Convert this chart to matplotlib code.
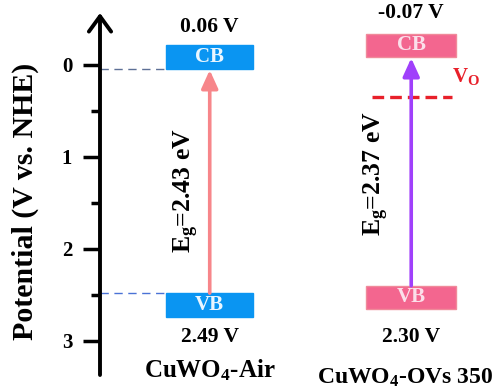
import matplotlib
matplotlib.use('Agg')
import matplotlib.pyplot as plt
from matplotlib.patches import Rectangle

plt.rcParams['font.family'] = ['Liberation Serif', 'DejaVu Serif']
plt.rcParams['font.weight'] = 'bold'
plt.rcParams['mathtext.fontset'] = 'custom'
plt.rcParams['mathtext.rm'] = 'Liberation Serif:bold'
plt.rcParams['mathtext.it'] = 'Liberation Serif:bold'
plt.rcParams['mathtext.bf'] = 'Liberation Serif:bold'

# data
samples = ['CuWO$_4$-Air', 'CuWO$_4$-OVs 350']
cb_text = ['0.06 V', '-0.07 V']
vb_text = ['2.49 V', '2.30 V']
eg_text = ['2.43', '2.37']
cb_level = [0.04, -0.09]   # bottom edge of CB box as drawn
vb_level = [2.48, 2.40]    # top edge of VB box as drawn
vo_level = 0.35

# styling per sample
xpos = [1.10, 3.12]
box_w = [0.87, 0.90]
box_h = [0.26, 0.25]
box_face = ['#0a95f2', '#f3668f']
box_edge = ['#0a95f2', '#f08a9a']
box_txt = ['#eaf6ff', '#fbe0ea']
arrow_col = ['#f7868a', '#a040fb']
eg_xy = [(0.87, 1.37), (2.77, 1.185)]
top_gap = [0.19, 0.22]
bot_gap = [0.22, 0.31]
name_xy = [(1.10, 3.32), (3.06, 3.40)]
name_size = [18, 17]

fig = plt.figure(figsize=(4.99, 3.92), dpi=100)
ax = fig.add_axes([100 / 499, 17 / 392, 399 / 499, 362 / 392])
ax.set_xlim(0, 4)
ax.set_ylim(3.37, -0.565)

for s in ['top', 'right', 'bottom', 'left']:
    ax.spines[s].set_visible(False)
ax.annotate('', xy=(0, 1), xytext=(0, 0), xycoords='axes fraction',
            arrowprops=dict(arrowstyle='->,head_length=0.55,head_width=0.4',
                            mutation_scale=20, lw=2.8, color='black',
                            shrinkA=0, shrinkB=0))

ax.set_xticks([])
ax.set_yticks([0, 1, 2, 3])
ax.set_yticks([0.5, 1.5, 2.5], minor=True)
ax.tick_params(axis='y', which='major', length=12, width=2.5, pad=8, labelsize=15)
ax.tick_params(axis='y', which='minor', length=6.5, width=2.5)
for lab in ax.get_yticklabels():
    lab.set_fontweight('bold')

fig.text(25 / 499, 1 - 201 / 392, 'Potential (V vs. NHE)', rotation=90,
         ha='center', va='center', fontsize=21.5, fontweight='bold')

for i in range(2):
    x = xpos[i]
    w = box_w[i]
    h = box_h[i]
    ax.add_patch(Rectangle((x - w / 2, cb_level[i] - h), w, h,
                           facecolor=box_face[i], edgecolor=box_edge[i], lw=1))
    ax.add_patch(Rectangle((x - w / 2, vb_level[i]), w, h,
                           facecolor=box_face[i], edgecolor=box_edge[i], lw=1))
    ax.text(x, cb_level[i] - h / 2, 'CB', ha='center', va='center',
            fontsize=15, color=box_txt[i])
    ax.text(x, vb_level[i] + h / 2, 'VB', ha='center', va='center',
            fontsize=15, color=box_txt[i])
    ax.annotate('', xy=(x, cb_level[i]), xytext=(x, vb_level[i]),
                arrowprops=dict(arrowstyle='-|>,head_length=0.55,head_width=0.25',
                                mutation_scale=20, lw=2.6, color=arrow_col[i],
                                shrinkA=0, shrinkB=1))
    ax.text(x, cb_level[i] - h - top_gap[i], cb_text[i], ha='center', va='center',
            fontsize=15.5)
    ax.text(x, vb_level[i] + h + bot_gap[i], vb_text[i], ha='center', va='center',
            fontsize=15.5)
    ax.text(name_xy[i][0], name_xy[i][1], samples[i], ha='center', va='center',
            fontsize=name_size[i])
    ax.text(eg_xy[i][0], eg_xy[i][1], 'E$_g$=' + eg_text[i] + ' eV', rotation=90,
            ha='center', va='center', fontsize=18.5)

# dashed guides for the air sample
ax.plot([0, xpos[0] - box_w[0] / 2], [cb_level[0], cb_level[0]], ls=(0, (6, 4)),
        lw=1, color='#5d7096', clip_on=False)
ax.plot([0, xpos[0] - box_w[0] / 2], [vb_level[0], vb_level[0]], ls=(0, (6, 4)),
        lw=1, color='#4a72d6', clip_on=False)

# oxygen vacancy level
ax.plot([2.73, 3.53], [vo_level, vo_level], ls=(0, (3.5, 1.8)), lw=2.4,
        color='#e8202a')
ax.text(3.53, 0.185, 'V$_{\\rm O}$', ha='left', va='baseline', fontsize=15,
        color='#e8202a')

fig.savefig('out.png', dpi=100)
